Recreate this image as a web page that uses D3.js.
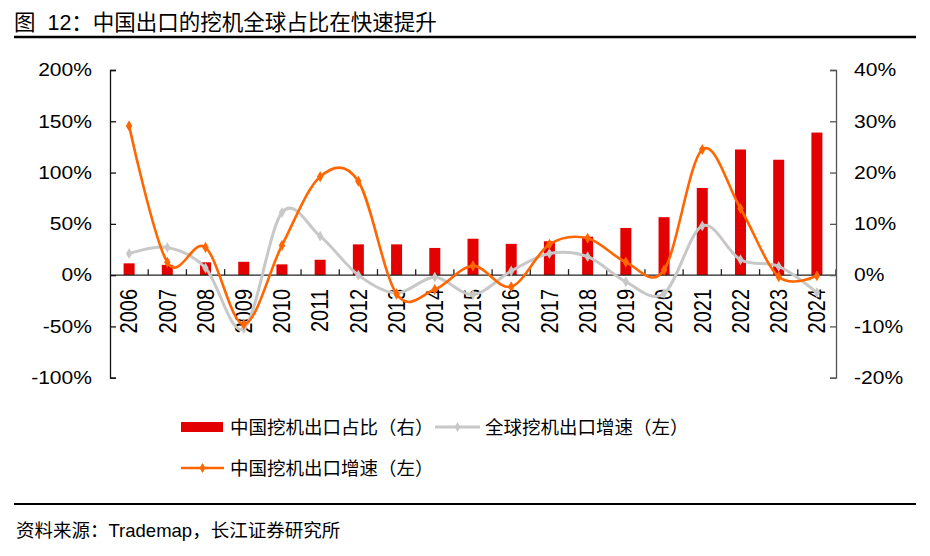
<!DOCTYPE html>
<html lang="zh">
<head>
<meta charset="utf-8">
<title>中国出口的挖机全球占比在快速提升</title>
<script src="https://cdnjs.cloudflare.com/ajax/libs/d3/7.8.5/d3.min.js"></script>
<style>
  body { margin: 0; background: #fff; }
  text { font-family: "Liberation Sans", Arial, "Noto Sans CJK SC", sans-serif; fill: #000; }
</style>
</head>
<body>
<script>
// data
var years = [2006, 2007, 2008, 2009, 2010, 2011, 2012, 2013, 2014, 2015, 2016, 2017, 2018, 2019, 2020, 2021, 2022, 2023, 2024];
var shareCN = [2.3, 2.0, 2.5, 2.6, 2.1, 3.0, 6.0, 6.0, 5.3, 7.1, 6.1, 6.6, 7.5, 9.2, 11.3, 17.0, 24.5, 22.5, 27.8];   // 中国挖机出口占比（右）
var growthWorld = [21, 27, 7, -52, 61, 38, 0, -17.5, -2, -19, 4, 21, 18, -6.5, -18, 48, 15, 8.5, -17];               // 全球挖机出口增速（左）
var growthCN = [145.5, 12.5, 27, -48, 29, 96, 91.5, -18.5, -14, 9, -11.3, 30, 36, 12.7, 5, 122.5, 65, -1.5, -0.6];   // 中国挖机出口增速（左）
var leftTicks = [-100, -50, 0, 50, 100, 150, 200];
var rightTicks = [-20, -10, 0, 10, 20, 30, 40];

var W = 930, H = 556;
var svg = d3.select("body").append("svg")
            .attr("width", W)
            .attr("height", H);

// title + rules
svg.append("text")
   .attr("x", 14).attr("y", 30)
   .style("font-size", "21.5px")
   .style("white-space", "pre")
   .text("图  12：中国出口的挖机全球占比在快速提升");
svg.append("line").attr("x1", 14).attr("x2", 916).attr("y1", 37).attr("y2", 37)
   .attr("stroke", "#000").attr("stroke-width", 2.5);
svg.append("line").attr("x1", 14).attr("x2", 916).attr("y1", 504).attr("y2", 504)
   .attr("stroke", "#000").attr("stroke-width", 2);
svg.append("text")
   .attr("x", 16).attr("y", 537)
   .style("font-size", "18.5px")
   .text("资料来源：Trademap，长江证券研究所");

// scales
var x = d3.scaleBand().domain(years).range([110, 836]).padding(0);
var yL = d3.scaleLinear().domain([-100, 200]).range([377.7, 70]);
var yR = d3.scaleLinear().domain([-20, 40]).range([377.7, 70]);
var cx = function(d) { return x(d) + x.bandwidth() / 2; };

// bars (right axis)
svg.append("g").selectAll("rect")
   .data(years)
   .enter().append("rect")
   .attr("x", function(d) { return cx(d) - 5.5; })
   .attr("width", 11)
   .attr("y", function(d, i) { return yR(shareCN[i]); })
   .attr("height", function(d, i) { return yR(0) - yR(shareCN[i]); })
   .attr("fill", "#E30000");

// x axis along zero, ticks pointing up at the band edges
var x0 = yL(0);
svg.append("line").attr("x1", 110).attr("x2", 836).attr("y1", x0).attr("y2", x0)
   .attr("stroke", "#222").attr("stroke-width", 1.3);
svg.append("g").selectAll("line")
   .data(years.slice(1).concat(["end"]))
   .enter().append("line")
   .attr("x1", function(d) { return d == "end" ? 836 : x(d); })
   .attr("x2", function(d) { return d == "end" ? 836 : x(d); })
   .attr("y1", x0).attr("y2", x0 - 6)
   .attr("stroke", "#222").attr("stroke-width", 1.3);
svg.append("g").selectAll("text")
   .data(years)
   .enter().append("text")
   .attr("transform", function(d) { return "translate(" + cx(d) + ",289) rotate(-90) scale(1,1.15)"; })
   .attr("text-anchor", "end")
   .attr("dy", "0.36em")
   .style("font-size", "20px")
   .text(function(d) { return d; });

// left axis
var gL = svg.append("g").attr("transform", "translate(110,0)")
   .call(d3.axisLeft(yL).tickValues(leftTicks).tickSize(-6).tickSizeOuter(-6).tickPadding(18)
           .tickFormat(function(d) { return d + "%"; }));
gL.select(".domain").attr("stroke", "#111").attr("stroke-width", 1.3);
gL.selectAll(".tick line").attr("stroke", "#111").attr("stroke-width", 1.3);
gL.selectAll(".tick text")
  .attr("x", null)
  .attr("transform", "translate(-18,0) scale(1.17,1)")
  .style("font-size", "18px").style("font-family", null).attr("fill", "#000");

// right axis
var gR = svg.append("g").attr("transform", "translate(836,0)")
   .call(d3.axisRight(yR).tickValues(rightTicks).tickSize(-6).tickSizeOuter(-6).tickPadding(18)
           .tickFormat(function(d) { return d + "%"; }));
gR.select(".domain").attr("stroke", "#555").attr("stroke-width", 1.3);
gR.selectAll(".tick line").attr("stroke", "#555").attr("stroke-width", 1.3);
gR.selectAll(".tick text")
  .attr("x", null)
  .attr("transform", "translate(18,0) scale(1.17,1)")
  .style("font-size", "18px").style("font-family", null).attr("fill", "#000");

// smoothed lines (left axis)
function drawSeries(values, color, width, msize) {
  var line = d3.line()
      .x(function(d, i) { return cx(years[i]); })
      .y(function(d) { return yL(d); })
      .curve(d3.curveCardinal.tension(0));
  svg.append("path")
     .datum(values)
     .attr("d", line)
     .attr("fill", "none")
     .attr("stroke", color)
     .attr("stroke-width", width);
  svg.append("g").selectAll("path")
     .data(values)
     .enter().append("path")
     .attr("transform", function(d, i) { return "translate(" + cx(years[i]) + "," + yL(d) + ")"; })
     .attr("d", d3.symbol(d3.symbolDiamond, msize))
     .attr("fill", color);
}
drawSeries(growthWorld, "#C8C8C8", 3, 34);
drawSeries(growthCN, "#FF6600", 2.6, 36);

// legend
var lg = svg.append("g");
lg.append("rect").attr("x", 181).attr("y", 422).attr("width", 42).attr("height", 10).attr("fill", "#E30000");
lg.append("text").attr("x", 230).attr("y", 427).attr("dy", "0.36em").style("font-size", "18.5px")
  .text("中国挖机出口占比（右）");

lg.append("line").attr("x1", 435).attr("x2", 480).attr("y1", 427).attr("y2", 427)
  .attr("stroke", "#C8C8C8").attr("stroke-width", 3);
lg.append("path").attr("transform", "translate(457.5,427)").attr("d", d3.symbol(d3.symbolDiamond, 30)).attr("fill", "#C8C8C8");
lg.append("text").attr("x", 485).attr("y", 427).attr("dy", "0.36em").style("font-size", "18.5px")
  .text("全球挖机出口增速（左）");

lg.append("line").attr("x1", 181).attr("x2", 224).attr("y1", 468).attr("y2", 468)
  .attr("stroke", "#FF6600").attr("stroke-width", 2.6);
lg.append("path").attr("transform", "translate(202.5,468)").attr("d", d3.symbol(d3.symbolDiamond, 30)).attr("fill", "#FF6600");
lg.append("text").attr("x", 230).attr("y", 468).attr("dy", "0.36em").style("font-size", "18.5px")
  .text("中国挖机出口增速（左）");
</script>
</body>
</html>
